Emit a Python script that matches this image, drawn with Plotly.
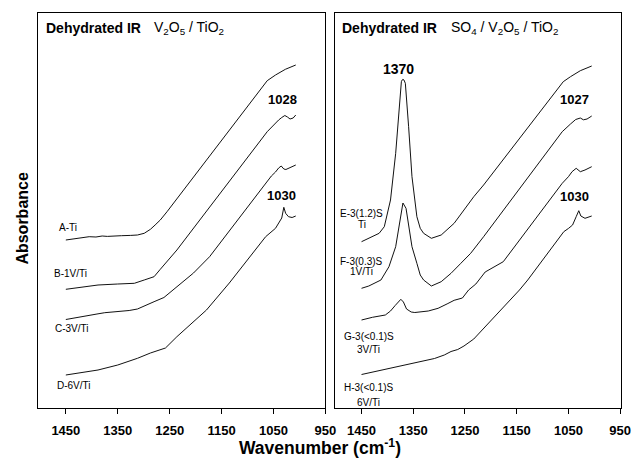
import plotly.graph_objects as go

# ---------------- data: dehydrated IR spectra (absorbance, offset for clarity) ----------------
# V2O5 / TiO2 series
wn_a = [1450, 1438, 1420, 1405, 1392, 1380, 1370, 1358, 1343, 1325, 1312, 1299, 1287, 1278, 1268, 1255, 1062, 1046, 1027, 1007]
ab_a = [1.68, 1.69, 1.703, 1.713, 1.71, 1.72, 1.716, 1.722, 1.723, 1.726, 1.73, 1.747, 1.787, 1.83, 1.88, 1.963, 3.273, 3.33, 3.387, 3.43]

wn_b = [1450, 1420, 1388, 1350, 1318, 1299, 1280, 1268, 1261, 1236, 1062, 1050, 1040, 1034, 1028, 1023, 1018, 1012, 1007]
ab_b = [1.187, 1.21, 1.23, 1.24, 1.247, 1.28, 1.313, 1.387, 1.43, 1.58, 2.763, 2.83, 2.88, 2.905, 2.925, 2.91, 2.89, 2.9, 2.93]

wn_c = [1450, 1425, 1407, 1390, 1375, 1360, 1344, 1328, 1312, 1296, 1280, 1261, 1236, 1204, 1173, 1054, 1046, 1040, 1035, 1030, 1026, 1018, 1007]
ab_c = [0.885, 0.905, 0.92, 0.94, 0.953, 0.96, 0.963, 0.975, 0.99, 1.03, 1.063, 1.105, 1.213, 1.35, 1.513, 2.32, 2.36, 2.40, 2.42, 2.39, 2.385, 2.405, 2.43]

wn_d = [1450, 1420, 1388, 1350, 1312, 1287, 1270, 1258, 1236, 1179, 1135, 1065, 1046, 1040, 1034, 1030, 1026.5, 1021, 1014, 1007]
ab_d = [0.33, 0.355, 0.38, 0.43, 0.497, 0.55, 0.575, 0.60, 0.713, 0.98, 1.25, 1.713, 1.797, 1.847, 1.90, 2.007, 1.947, 1.913, 1.905, 1.92]

# SO4 / V2O5 / TiO2 series
wn_e = [1450, 1436, 1416, 1406, 1394, 1384, 1378, 1373, 1371.5, 1370, 1368, 1365.3, 1359, 1352.5, 1343, 1336.5, 1330, 1315, 1296, 1271, 1252, 1233, 1214, 1060, 1046, 1027, 1005]
ab_e = [1.663, 1.697, 1.747, 1.813, 2.08, 2.547, 2.98, 3.263, 3.28, 3.287, 3.28, 3.247, 2.813, 2.313, 1.913, 1.797, 1.747, 1.697, 1.73, 1.847, 1.98, 2.113, 2.23, 3.263, 3.313, 3.373, 3.42]

wn_f = [1450, 1436, 1412.5, 1397, 1384, 1378, 1373, 1370, 1364, 1359, 1352.5, 1343, 1336.5, 1330, 1315, 1296, 1277, 1258, 1239, 1214, 1062, 1046, 1036, 1027, 1021, 1014, 1005]
ab_f = [1.197, 1.22, 1.28, 1.413, 1.613, 1.813, 1.98, 2.05, 1.997, 1.813, 1.613, 1.447, 1.33, 1.28, 1.22, 1.263, 1.347, 1.447, 1.547, 1.713, 2.763, 2.84, 2.885, 2.90, 2.882, 2.89, 2.92]

wn_g = [1450, 1429, 1404, 1394, 1385, 1374, 1369, 1363, 1354, 1347, 1321, 1302, 1283, 1271, 1255, 1243, 1229, 1211, 1176, 1062, 1050, 1043, 1035, 1027, 1018, 1005]
ab_g = [0.88, 0.907, 0.93, 0.97, 1.025, 1.087, 1.06, 0.99, 0.96, 0.955, 0.97, 0.997, 1.045, 1.077, 1.10, 1.18, 1.24, 1.36, 1.463, 2.247, 2.313, 2.363, 2.397, 2.363, 2.38, 2.413]

wn_h = [1450, 1404, 1372, 1340.5, 1309, 1290, 1277, 1264, 1252, 1233, 1214, 1179.5, 1144.7, 1128.7, 1059, 1049.6, 1042, 1035, 1030, 1026, 1018, 1005]
ab_h = [0.335, 0.385, 0.42, 0.455, 0.495, 0.53, 0.565, 0.585, 0.62, 0.69, 0.795, 0.98, 1.18, 1.28, 1.763, 1.797, 1.83, 1.913, 1.973, 1.92, 1.897, 1.92]

tick_vals = [1450, 1350, 1250, 1150, 1050, 950]

left_labels = ["A-Ti", "B-1V/Ti", "C-3V/Ti", "D-6V/Ti"]
right_labels = [("E-3(1.2)S", "Ti"), ("F-3(0.3)S", "1V/Ti"),
                ("G-3(&lt;0.1)S", "3V/Ti"), ("H-3(&lt;0.1)S", "6V/Ti")]

# ---------------- figure ----------------
W, H = 643, 462


def fx(p):
    return p / W


def fy(p):
    return 1 - p / H


FONT = "Liberation Sans, Arial, Helvetica, sans-serif"
LINE = dict(color="#111", width=1)

fig = go.Figure()
for wn, ab in [(wn_a, ab_a), (wn_b, ab_b), (wn_c, ab_c), (wn_d, ab_d)]:
    fig.add_trace(go.Scatter(x=wn, y=ab, mode="lines", line=LINE,
                             xaxis="x", yaxis="y", showlegend=False, hoverinfo="skip"))
for wn, ab in [(wn_e, ab_e), (wn_f, ab_f), (wn_g, ab_g), (wn_h, ab_h)]:
    fig.add_trace(go.Scatter(x=wn, y=ab, mode="lines", line=LINE,
                             xaxis="x2", yaxis="y2", showlegend=False, hoverinfo="skip"))

xcommon = dict(showline=True, mirror=True, linecolor="black", linewidth=1,
               ticks="outside", ticklen=5, tickcolor="black", tickwidth=1,
               tickvals=tick_vals, showgrid=False, zeroline=False,
               ticklabelstandoff=5,
               tickfont=dict(family=FONT, size=13, color="black", weight="bold"))
ycommon = dict(showline=True, mirror=True, linecolor="black", linewidth=1,
               showticklabels=False, ticks="", showgrid=False, zeroline=False,
               range=[0, 3.955], domain=[fy(408), fy(12.5)])

fig.update_layout(
    width=W, height=H, margin=dict(l=0, r=0, t=0, b=0),
    paper_bgcolor="white", plot_bgcolor="white",
    xaxis=dict(domain=[fx(39), fx(331)], range=[1503, 950], anchor="y", **xcommon),
    yaxis=dict(anchor="x", **ycommon),
    xaxis2=dict(domain=[fx(341), fx(632)], range=[1501, 948], anchor="y2", **xcommon),
    yaxis2=dict(anchor="x2", **ycommon),
)

ann = []


def note(text, x, y, size, bold=False, xanchor="center", angle=0):
    ann.append(dict(text=text, x=fx(x), y=fy(y), xref="paper", yref="paper",
                    xanchor=xanchor, yanchor="middle", showarrow=False, textangle=angle,
                    font=dict(family=FONT, size=size, color="black",
                              weight="bold" if bold else "normal")))


# panel titles
note("Dehydrated IR", 45, 28, 14, bold=True, xanchor="left")
note("V<sub>2</sub>O<sub>5</sub> / TiO<sub>2</sub>", 155, 28, 14, xanchor="left")
note("Dehydrated IR", 346, 28, 14, bold=True, xanchor="left")
note("SO<sub>4</sub> / V<sub>2</sub>O<sub>5</sub> / TiO<sub>2</sub>", 457, 28, 14, xanchor="left")

# band positions
note("1028", 287, 99, 13, bold=True)
note("1030", 286, 195, 13, bold=True)
note("1370", 405, 69, 14, bold=True)
note("1027", 585, 99, 13, bold=True)
note("1030", 585, 197, 13, bold=True)

# sample labels
for lab, (x, y) in zip(left_labels, [(69, 228), (72, 273), (73, 328), (75, 385)]):
    note(lab, x, y, 10)
for (l1, l2), (x, y1, y2) in zip(right_labels, [(368, 213, 224), (368, 261, 271),
                                                (375, 336, 349), (375, 387, 402)]):
    note(l1, x, y1, 10)
    note(l2, x, y2, 10)

# axis titles
note("Wavenumber (cm<sup>-1</sup>)", 326, 447, 17.5, bold=True)
note("Absorbance", 22, 218, 16, bold=True, angle=-90)

fig.update_layout(annotations=ann)
fig.write_html("out.html")
